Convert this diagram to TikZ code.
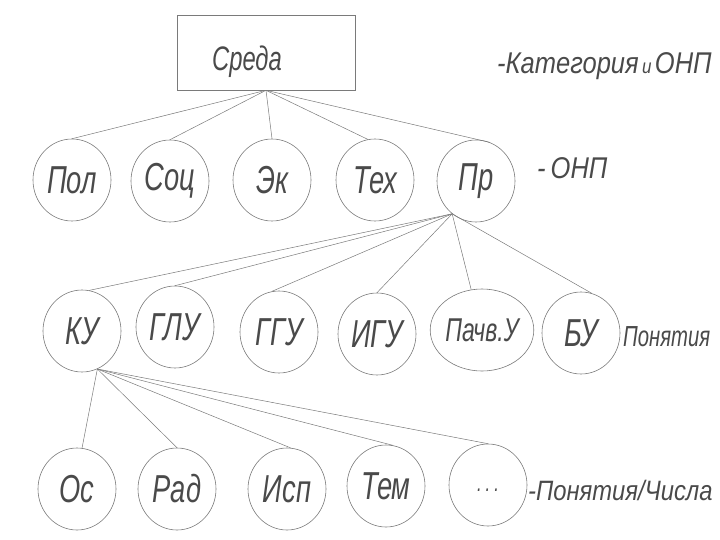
\documentclass[tikz,border=0pt]{standalone}
\usepackage{fontspec}
\newfontfamily\hand{Liberation Sans}[FakeStretch=0.7]
\newfontfamily\handwide{Liberation Sans}[FakeStretch=0.85]
\usepackage{xcolor}
\definecolor{inkgray}{HTML}{4A4A4A}
\definecolor{pencil}{HTML}{7A7A7A}
\usepackage{tikz}
\usetikzlibrary{shapes.geometric}

\tikzset{
  leaf/.style={ellipse, draw=pencil, line width=0.6pt,
               minimum width=78pt, minimum height=82pt, inner sep=0pt,
               text=inkgray, font=\hand\itshape\fontsize{39}{39}\selectfont},
  twig/.style={draw=pencil, line width=0.5pt},
  note/.style={anchor=west, inner sep=0pt, text=inkgray,
               font=\handwide\itshape\fontsize{30}{30}\selectfont}
}

\begin{document}
\begin{tikzpicture}[x=1pt, y=-1pt]
    \useasboundingbox (0,0) rectangle (720,540);
    % category
    \node[draw=pencil, line width=0.6pt, minimum width=178pt,
          minimum height=75pt, inner sep=0pt,
          label={[inner sep=0pt, text=inkgray, xshift=-19pt, yshift=-9pt,
                  font=\hand\itshape\fontsize{34}{34}\selectfont]center:Среда}]
      (sreda) at (266,52.5) {};
    \node[note] (katlab) at (497,66)
      {-Категория{\fontsize{20}{20}\selectfont\,и\,}ОНП};

    % ONP
    \node[leaf] (pol) at (72,180) {Пол};
    \node[leaf] (soc) at (170,181) {Соц};
    \node[leaf] (ek)  at (272,180) {Эк};
    \node[leaf] (tex) at (375,180) {Тех};
    \node[leaf] (pr)  at (476,181) {Пр};
    \node[note] (onplab) at (537,168) {-\,ОНП};
    \foreach \n/\a in {pol/north, soc/north, ek/north, tex/100, pr/70}
      \draw[twig] (sreda.south) -- (\n.\a);

    % concepts
    \node[leaf] (ku)    at (82,331)  {КУ};
    \node[leaf] (glu)   at (175,327) {ГЛУ};
    \node[leaf] (ggu)   at (279,332) {ГГУ};
    \node[leaf] (igu)   at (377,334) {ИГУ};
    \node[leaf, font=\hand\itshape\fontsize{33}{33}\selectfont]
      (pochv) at (482,330) {Пачв.У};
    \node[leaf] (bu)    at (581,333) {БУ};
    \node[note, font=\hand\itshape\fontsize{29}{29}\selectfont]
      (ponlab) at (623,337) {Понятия};
    \foreach \n/\a in {ku/80, glu/north, ggu/100, igu/north, pochv/105, bu/75}
      \draw[twig] (pr.234) -- (\n.\a);

    % concepts / numbers
    \node[leaf] (os)   at (77,489)  {Ос};
    \node[leaf] (rad)  at (177,489) {Рад};
    \node[leaf] (isp)  at (287,489) {Исп};
    \node[leaf] (tem)  at (386,486) {Тем};
    \node[leaf, font=\hand\itshape\fontsize{24}{24}\selectfont]
      (etc)  at (488,485) {\raisebox{-12pt}{.\,.\,.}};
    \node[note, font=\handwide\itshape\fontsize{28}{28}\selectfont]
      (chislab) at (528,490) {-Понятия/Числа};
    \foreach \n/\a in {os/83, rad/north, isp/85, tem/80, etc/north}
      \draw[twig] (ku.292) -- (\n.\a);
\end{tikzpicture}
\end{document}
